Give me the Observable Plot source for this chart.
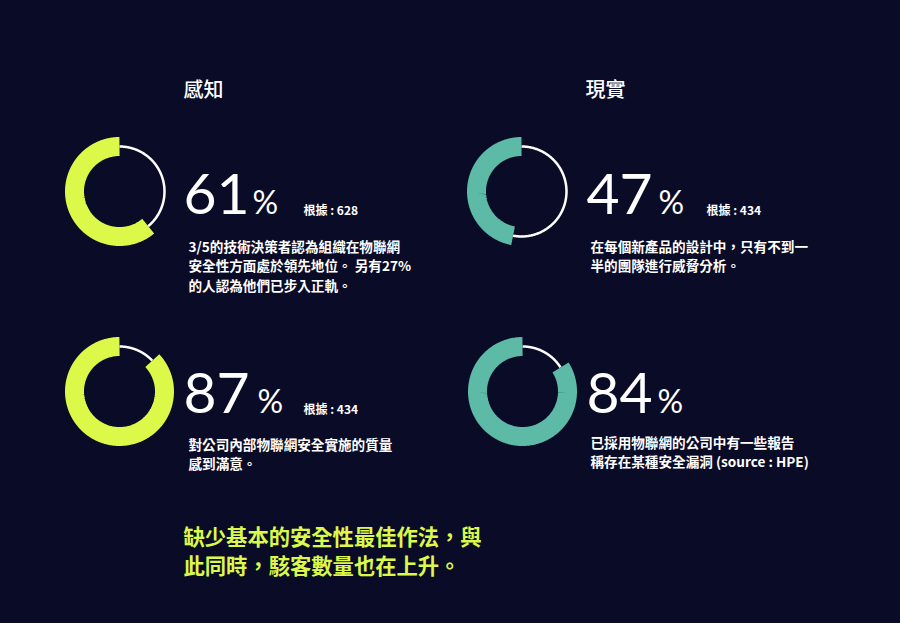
<!DOCTYPE html>
<html>
<head>
<meta charset="utf-8">
<script src="https://cdn.jsdelivr.net/npm/d3@7"></script>
<script src="https://cdn.jsdelivr.net/npm/@observablehq/plot@0.6"></script>
<style>
  html, body { margin: 0; padding: 0; background: #0a0b27; }
  #chart { width: 900px; height: 623px; }
</style>
</head>
<body>
<div id="chart"></div>
<script>
// ---- data ----
const columns = ["感知", "現實"];
const values = [61, 47, 87, 84];
const samples = ["根據 : 628", "根據 : 434", "根據 : 434", ""];
const notes = [
  ["3/5的技術決策者認為組織在物聯網", "安全性方面處於領先地位。 另有27%", "的人認為他們已步入正軌。"],
  ["在每個新產品的設計中，只有不到一", "半的團隊進行威脅分析。"],
  ["對公司內部物聯網安全實施的質量", "感到滿意。"],
  ["已採用物聯網的公司中有一些報告", "稱存在某種安全漏洞 (source : HPE)"]
];
const footer = ["缺少基本的安全性最佳作法，與", "此同時，駭客數量也在上升。"];
const ringColors = ["#dcf94a", "#5dbaa7", "#dcf94a", "#5dbaa7"];

// ---- layout (pixel units; x/y scales are identity) ----
const centers = [[119, 191], [521, 191], [119, 391], [522, 391]];
const textX = [183, 586, 183, 586];
const pctOffset = [69, 72, 74, 71];
const noteX = [188, 590, 188, 590];
const numBase = [213, 213, 412, 412];
const noteTop = [237, 237, 435, 433];
const colTitleX = [183, 585];

const R = 45;
const bg = "#0a0b27";

// arc samples derived from values
const filled = [], rest = [];
values.forEach((v, i) => {
  const [cx, cy] = centers[i];
  const end = 2 * Math.PI * v / 100;
  const n = 240;
  for (let k = 0; k <= n; k++) {
    const t = end * k / n;
    filled.push({i, x: cx - R * Math.sin(t), y: cy - R * Math.cos(t)});
    const t2 = end + (2 * Math.PI - end) * k / n;
    rest.push({i, x: cx - R * Math.sin(t2), y: cy - R * Math.cos(t2)});
  }
});

const panels = values.map((v, i) => ({
  i,
  num: String(v),
  sample: samples[i],
  note: notes[i].join("\n"),
  nx: textX[i], px: textX[i] + pctOffset[i], ny: numBase[i],
  sx: textX[i] + 120, notex: noteX[i], notey: noteTop[i]
}));

const titles = columns.map((c, j) => ({c, x: colTitleX[j], y: 90}));

const cjk = "'Noto Sans CJK TC', 'Noto Sans', sans-serif";
const num = "Lato, 'Open Sans', sans-serif";

const chart = Plot.plot({
  width: 900,
  height: 623,
  margin: 0,
  x: {domain: [0, 900], range: [0, 900], axis: null},
  y: {domain: [0, 623], range: [0, 623], axis: null},
  style: {background: bg, overflow: "visible"},
  marks: [
    Plot.line(rest, {x: "x", y: "y", z: "i", stroke: "#ffffff", strokeWidth: 2.5, strokeLinecap: "butt", curve: "linear"}),
    Plot.line(filled, {x: "x", y: "y", z: "i", stroke: (d) => ringColors[d.i], strokeWidth: 19, strokeLinecap: "butt", strokeLinejoin: "miter"}),
    Plot.text(titles, {x: "x", y: "y", text: "c", fill: "#ffffff", fontSize: 20, fontFamily: cjk, fontWeight: 500, textAnchor: "start", lineAnchor: "middle"}),
    Plot.text(panels, {x: "nx", y: "ny", text: "num", fill: "#ffffff", fontSize: 57, fontFamily: num, fontWeight: 400, textAnchor: "start", lineAnchor: "bottom"}),
    Plot.text(panels, {x: "px", y: "ny", text: () => "%", fill: "#ffffff", fontSize: 32, fontFamily: num, fontWeight: 400, textAnchor: "start", lineAnchor: "bottom"}),
    Plot.text(panels, {x: "sx", y: (d) => d.ny + 1, text: "sample", fill: "#ffffff", fontSize: 12, fontFamily: cjk, fontWeight: 700, textAnchor: "start", lineAnchor: "bottom"}),
    Plot.text(panels, {x: "notex", y: "notey", text: "note", fill: "#ffffff", fontSize: 13.6, lineHeight: 1.45, fontFamily: cjk, fontWeight: 700, textAnchor: "start", lineAnchor: "top"}),
    Plot.text([footer.join("\n")], {x: () => 183, y: () => 524, text: (d) => d, fill: "#dcf94a", fontSize: 21.3, lineHeight: 1.35, fontFamily: cjk, fontWeight: 700, textAnchor: "start", lineAnchor: "top"})
  ]
});
document.getElementById("chart").appendChild(chart);
</script>
</body>
</html>
